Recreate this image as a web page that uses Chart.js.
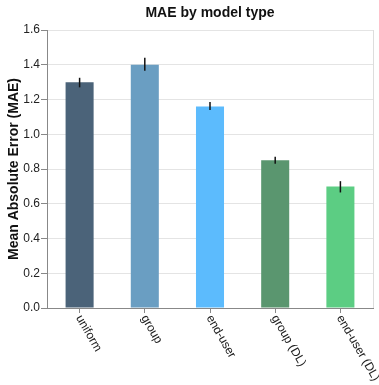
<!DOCTYPE html>
<html>
<head>
<meta charset="utf-8">
<script src="https://cdn.jsdelivr.net/npm/chart.js@4/dist/chart.umd.min.js"></script>
<style>
  html, body { margin: 0; padding: 0; background: #fff; }
  #wrap { width: 379px; height: 385px; }
</style>
</head>
<body>
<div id="wrap"><canvas id="c" width="379" height="385"></canvas></div>
<script>
// Model types and their mean absolute error, with confidence bounds
const models = ['uniform', 'group', 'end-user', 'group (DL)', 'end-user (DL)'];
const mae = [1.30, 1.40, 1.16, 0.85, 0.70];
const ciLow = [1.27, 1.365, 1.14, 0.83, 0.665];
const ciHigh = [1.325, 1.44, 1.185, 0.87, 0.73];
const barColors = ['#4b6379', '#6a9ec2', '#5cbbfd', '#5a966f', '#5ccd83'];
const yTicks = [0, 0.2, 0.4, 0.6, 0.8, 1.0, 1.2, 1.4, 1.6];
const chartTitle = 'MAE by model type';

const FONT = '"Liberation Sans", Arial, Helvetica, sans-serif';

// Error bars, plot frame, centred title and rotated category labels
const extras = {
  id: 'extras',
  afterDatasetsDraw(chart) {
    const ctx = chart.ctx;
    const x = chart.scales.x, y = chart.scales.y;
    ctx.save();
    ctx.strokeStyle = '#111';
    ctx.lineWidth = 1.5;
    models.forEach((m, i) => {
      const px = x.getPixelForValue(i);
      ctx.beginPath();
      ctx.moveTo(px, y.getPixelForValue(ciLow[i]));
      ctx.lineTo(px, y.getPixelForValue(ciHigh[i]));
      ctx.stroke();
    });
    ctx.restore();
  },
  afterDraw(chart) {
    const ctx = chart.ctx;
    const x = chart.scales.x, area = chart.chartArea;
    ctx.save();
    // right edge of the plot frame
    ctx.strokeStyle = '#dddddd';
    ctx.lineWidth = 1;
    ctx.beginPath();
    ctx.moveTo(area.right + 0.5, area.top);
    ctx.lineTo(area.right + 0.5, area.bottom);
    ctx.stroke();
    // title centred over the plot area
    ctx.fillStyle = '#111';
    ctx.font = 'bold 14px ' + FONT;
    ctx.textAlign = 'center';
    ctx.textBaseline = 'middle';
    ctx.fillText(chartTitle, (area.left + area.right) / 2, 13);
    // category labels, rotated clockwise
    ctx.fillStyle = '#222';
    ctx.font = '12px ' + FONT;
    ctx.textAlign = 'left';
    ctx.textBaseline = 'middle';
    models.forEach((m, i) => {
      const px = x.getPixelForValue(i);
      ctx.save();
      ctx.translate(px - 1, area.bottom + 8);
      ctx.rotate(Math.PI / 180 * 60);
      ctx.fillText(m, 0, 0);
      ctx.restore();
    });
    ctx.restore();
  }
};

new Chart(document.getElementById('c'), {
  type: 'bar',
  data: {
    labels: models,
    datasets: [{
      data: mae,
      backgroundColor: barColors,
      borderWidth: 0,
      categoryPercentage: 1.0,
      barPercentage: 0.43
    }]
  },
  options: {
    responsive: false,
    animation: false,
    layout: { padding: { left: 0, right: 6, top: 30, bottom: 0 } },
    plugins: {
      legend: { display: false },
      tooltip: { enabled: false },
      title: { display: false }
    },
    scales: {
      x: {
        grid: {
          display: true,
          drawOnChartArea: false,
          offset: false,
          tickLength: 5,
          tickColor: '#888'
        },
        border: { color: '#888', width: 1 },
        ticks: { display: false },
        afterFit(s) { s.height = 77; }
      },
      y: {
        min: 0,
        max: 1.6,
        afterBuildTicks(s) { s.ticks = yTicks.map(v => ({ value: v })); },
        grid: {
          color: '#e4e4e4',
          tickColor: '#888',
          tickLength: 6
        },
        border: { color: '#888', width: 1 },
        ticks: {
          color: '#222',
          font: { family: FONT, size: 12 },
          padding: 1,
          callback: v => Number(v).toFixed(1)
        },
        title: {
          display: true,
          text: 'Mean Absolute Error (MAE)',
          color: '#111',
          font: { family: FONT, size: 14, weight: 'bold' },
          padding: { top: 6, bottom: 0 }
        },
        afterFit(s) { s.width = 47; }
      }
    }
  },
  plugins: [extras]
});
</script>
</body>
</html>
